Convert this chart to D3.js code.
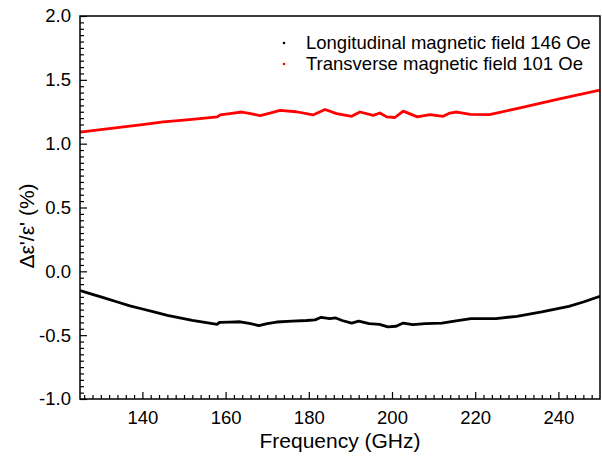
<!DOCTYPE html>
<html>
<head>
<meta charset="utf-8">
<script src="https://cdn.jsdelivr.net/npm/d3@7"></script>
<style>
  body { margin: 0; background: #fff; }
  text { font-family: "Liberation Sans", Arial, sans-serif; }
</style>
</head>
<body>
<div id="chart"></div>
<script>
// frequency (GHz) and delta eps'/eps' (%)
const longFreq = [125, 128, 131, 134, 137, 140, 143, 146, 149, 152, 155, 158,
  158.5, 161, 163.5, 166, 168, 170, 172.3, 176, 179.5, 181.5, 183, 185, 186.5,
  188, 190.3, 192, 194.5, 197, 199, 201, 202.7, 205, 208, 212, 215, 219, 225,
  230, 236, 242.5, 246, 250];
const longVals = [-0.15, -0.18, -0.21, -0.24, -0.27, -0.295, -0.32, -0.345,
  -0.365, -0.385, -0.40, -0.415, -0.40, -0.398, -0.395, -0.41, -0.425, -0.41,
  -0.397, -0.39, -0.385, -0.38, -0.36, -0.37, -0.365, -0.385, -0.405, -0.39,
  -0.41, -0.415, -0.435, -0.43, -0.405, -0.417, -0.41, -0.405, -0.39, -0.37,
  -0.37, -0.352, -0.318, -0.274, -0.24, -0.195];

const transFreq = [125, 130, 135, 140, 145, 150, 155, 158, 158.7, 161, 163.9,
  166, 168.3, 170.2, 173.1, 177, 181, 183.9, 186.7, 190.3, 192.3, 195.5, 197.1,
  198.7, 200.7, 202.7, 206.1, 209.1, 212.3, 213.9, 215.6, 218.8, 223.4, 230,
  240, 250];
const transVals = [1.09, 1.11, 1.13, 1.15, 1.17, 1.185, 1.20, 1.21, 1.225,
  1.235, 1.248, 1.235, 1.22, 1.235, 1.26, 1.25, 1.225, 1.268, 1.235, 1.214,
  1.248, 1.222, 1.24, 1.21, 1.205, 1.255, 1.21, 1.227, 1.214, 1.24, 1.248,
  1.23, 1.227, 1.275, 1.348, 1.42];

const seriesNames = ["Longitudinal magnetic field 146 Oe", "Transverse magnetic field 101 Oe"];
const seriesColors = ["#000000", "#ff0000"];

const xTicks = [140, 160, 180, 200, 220, 240];
const yTicks = [-1.0, -0.5, 0.0, 0.5, 1.0, 1.5, 2.0];

const width = 602, height = 460;
const margin = {top: 16, right: 2, bottom: 61, left: 80};

const svg = d3.select("#chart").append("svg")
  .attr("width", width)
  .attr("height", height);

const x = d3.scaleLinear().domain([125, 250]).range([margin.left, width - margin.right]);
const y = d3.scaleLinear().domain([-1, 2]).range([height - margin.bottom, margin.top]);

const xMinor = d3.range(126, 250, 2).filter(v => v % 20 !== 0);
const yMinor = d3.range(-20, 41).map(v => v * 0.05).filter(v => Math.abs(v * 2 - Math.round(v * 2)) > 1e-6);

// minor ticks
svg.append("g")
  .attr("transform", "translate(0," + y.range()[0] + ")")
  .call(d3.axisBottom(x).tickValues(xMinor).tickSize(-4).tickFormat(""))
  .call(g => g.select(".domain").remove());
svg.append("g")
  .attr("transform", "translate(" + x.range()[0] + ",0)")
  .call(d3.axisLeft(y).tickValues(yMinor).tickSize(-4).tickFormat(""))
  .call(g => g.select(".domain").remove());

// major ticks
const xAxis = svg.append("g")
  .attr("transform", "translate(0," + y.range()[0] + ")")
  .call(d3.axisBottom(x).tickValues(xTicks).tickSize(-7).tickPadding(12).tickFormat(d3.format("d")));
const yAxis = svg.append("g")
  .attr("transform", "translate(" + x.range()[0] + ",0)")
  .call(d3.axisLeft(y).tickValues(yTicks).tickSize(-7).tickPadding(9)
    .tickFormat(d => d3.format(".1f")(d).replace("−", "-")));

[xAxis, yAxis].forEach(g => {
  g.select(".domain").remove();
  g.selectAll("text").attr("font-size", 18.5).attr("fill", "#000")
    .attr("font-family", "'Liberation Sans', Arial, sans-serif");
});
svg.selectAll(".tick line").attr("stroke", "#000").attr("stroke-width", 1.2);

svg.append("defs").append("clipPath").attr("id", "clip")
  .append("rect")
  .attr("x", x.range()[0]).attr("y", y.range()[1])
  .attr("width", x.range()[1] - x.range()[0])
  .attr("height", y.range()[0] - y.range()[1]);

const line = d3.line()
  .x(d => x(d[0]))
  .y(d => y(d[1]));

const series = [
  d3.zip(longFreq, longVals),
  d3.zip(transFreq, transVals)
];

svg.append("g").attr("clip-path", "url(#clip)")
  .selectAll("path")
  .data(series)
  .enter().append("path")
  .attr("d", line)
  .attr("fill", "none")
  .attr("stroke", (d, i) => seriesColors[i])
  .attr("stroke-width", 2.8)
  .attr("stroke-linejoin", "round");

// frame
svg.append("rect")
  .attr("x", x.range()[0]).attr("y", y.range()[1])
  .attr("width", x.range()[1] - x.range()[0])
  .attr("height", y.range()[0] - y.range()[1])
  .attr("fill", "none")
  .attr("stroke", "#000")
  .attr("stroke-width", 1.5);

// legend
const legend = svg.append("g")
  .selectAll("g")
  .data(seriesNames)
  .enter().append("g")
  .attr("transform", (d, i) => "translate(284," + (43 + i * 21) + ")");
legend.append("circle")
  .attr("r", 1.3)
  .attr("fill", (d, i) => seriesColors[i]);
legend.append("text")
  .attr("x", 22)
  .attr("dy", "0.35em")
  .attr("font-size", 18.5)
  .text(d => d);

// axis titles
svg.append("text")
  .attr("x", (x.range()[0] + x.range()[1]) / 2)
  .attr("y", 448)
  .attr("text-anchor", "middle")
  .attr("font-size", 21)
  .text("Frequency (GHz)");

svg.append("text")
  .attr("transform", "translate(34,226) rotate(-90)")
  .attr("text-anchor", "middle")
  .attr("font-size", 21)
  .text("Δε'/ε' (%)");
</script>
</body>
</html>
